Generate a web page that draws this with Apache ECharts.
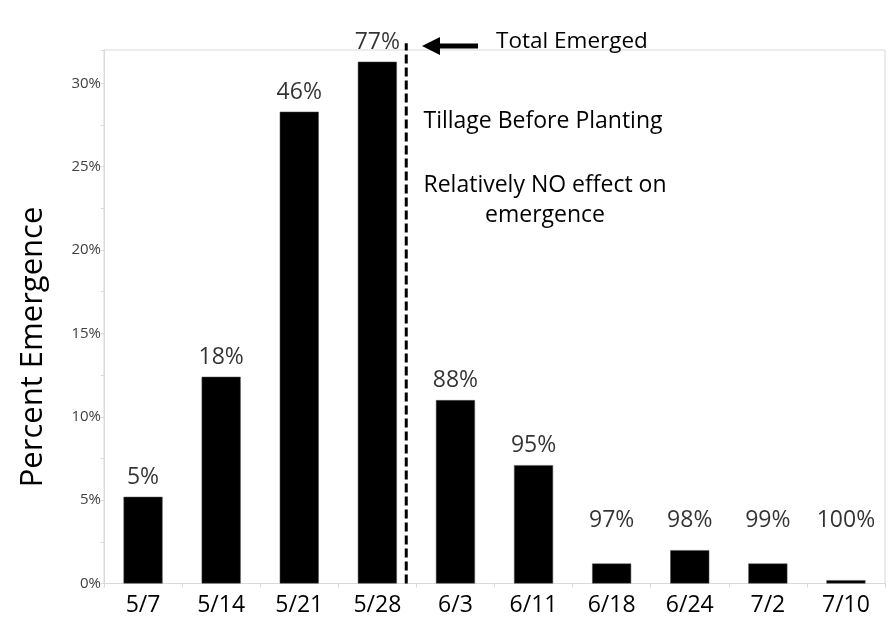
<!DOCTYPE html>
<html><head><meta charset="utf-8">
<script src="https://cdn.jsdelivr.net/npm/echarts@6/dist/echarts.min.js"></script>
<style>html,body{margin:0;padding:0;background:#fff}#c{width:896px;height:629px}</style>
</head><body><div id="c"></div>
<script>
const categories = ['5/7','5/14','5/21','5/28','6/3','6/11','6/18','6/24','7/2','7/10'];
const weeklyEmergence = [5.2, 12.4, 28.3, 31.3, 11.0, 7.1, 1.2, 2.0, 1.2, 0.2];
const cumulativeLabels = ['5%','18%','46%','77%','88%','95%','97%','98%','99%','100%'];
const tillageLineX = 3.87; // position between 5/28 and 6/3 (category units)
const FONT = 'Open Sans';

const chart = echarts.init(document.getElementById('c'), null, {renderer:'canvas'});
const labelFloor = 2.6;
const option = {
  animation: false,
  grid: {left:104, right:11, top:50, bottom:45.5, show:true, borderColor:'#d9d9d9', borderWidth:1, backgroundColor:'transparent'},
  xAxis: [{
    type:'category', data: categories,
    axisLine:{lineStyle:{color:'#d9d9d9'}},
    axisTick:{show:true, alignWithLabel:false, length:4, lineStyle:{color:'#d9d9d9'}},
    axisLabel:{color:'#000', fontFamily:FONT, fontSize:23, margin:10}
  },{
    type:'value', min:0, max:10, show:false
  }],
  yAxis: {
    type:'value', min:0, max:32, interval:5,
    axisLine:{show:true, lineStyle:{color:'#d9d9d9'}},
    axisTick:{show:true, length:3, lineStyle:{color:'#d9d9d9'}},
    minorTick:{show:true, splitNumber:2, length:3, lineStyle:{color:'#d9d9d9'}},
    splitLine:{show:false},
    axisLabel:{formatter:'{value}%', color:'#404040', fontFamily:FONT, fontSize:15, margin:3, showMaxLabel:false}
  },
  series: [{
    type:'bar', data: weeklyEmergence, barWidth:'50%',
    itemStyle:{color:'#000', borderColor:'#555', borderWidth:0.5}
  },{
    type:'scatter', symbolSize:0,
    data: weeklyEmergence.map((v,i)=>[i, Math.max(v, labelFloor)]),
    label:{show:true, position:'top', distance:8, color:'#000', fontFamily:FONT, fontSize:23,
      formatter:p=>cumulativeLabels[p.dataIndex]},
    z:5
  },{
    type:'line', xAxisIndex:1, clip:false, symbol:'none',
    data:[[tillageLineX,0],[tillageLineX,32.4]],
    lineStyle:{color:'#000', width:3, type:[9,4]}, z:6
  }],
  graphic: [
    {type:'text', x:33, y:347, rotation:Math.PI/2, style:{text:'Percent Emergence', fontFamily:FONT, fontSize:31, fill:'#000', align:'center', verticalAlign:'middle'}},
    {type:'polygon', shape:{points:[[422,46],[440,37],[440,43.5],[478,43.5],[478,48.5],[440,48.5],[440,55]]}, style:{fill:'#000'}},
    {type:'text', x:572, y:42, style:{text:'Total Emerged', fontFamily:FONT, fontSize:22.5, fill:'#000', align:'center', verticalAlign:'middle'}},
    {type:'text', x:543, y:121, style:{text:'Tillage Before Planting', fontFamily:FONT, fontSize:23, fill:'#000', align:'center', verticalAlign:'middle'}},
    {type:'text', x:545, y:185, style:{text:'Relatively NO effect on', fontFamily:FONT, fontSize:23, fill:'#000', align:'center', verticalAlign:'middle'}},
    {type:'text', x:545, y:215, style:{text:'emergence', fontFamily:FONT, fontSize:23, fill:'#000', align:'center', verticalAlign:'middle'}}
  ]
};
chart.setOption(option);
</script></body></html>
